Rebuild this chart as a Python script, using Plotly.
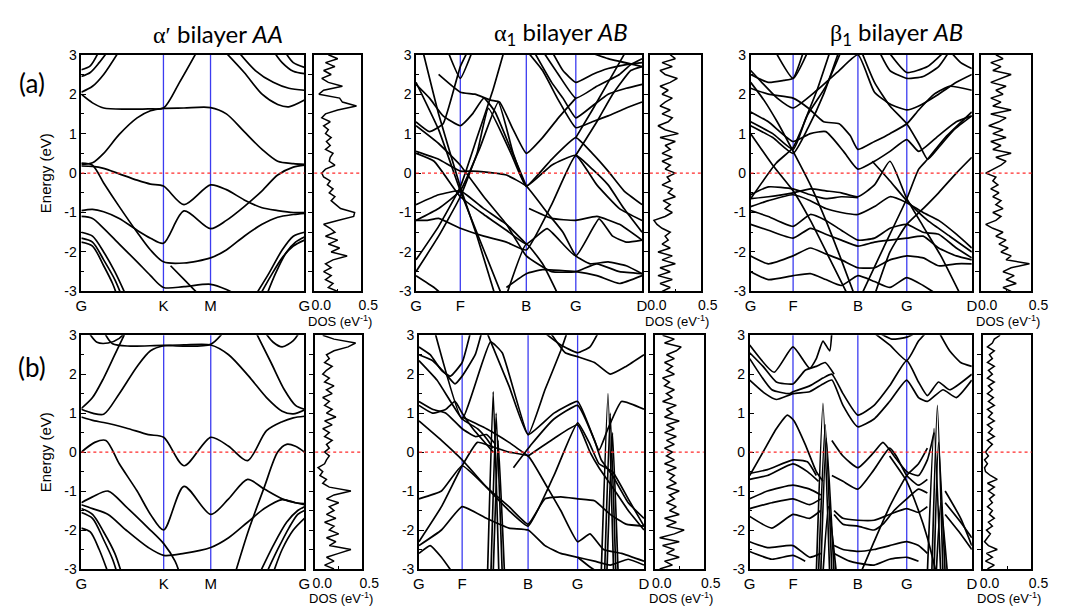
import plotly.graph_objects as go

W, H = 1071, 613

# ---------------- high-symmetry points / labels ----------------
AL_SYM = [0, 0.368, 0.579, 1.0]
AL_LAB = ["G", "K", "M", "G"]
AM_SYM = [0, 0.196, 0.488, 0.707, 1.0]
AR_SYM = [0, 0.192, 0.485, 0.706, 1.0]
BL_SYM = [0, 0.369, 0.58, 1.0]
BM_SYM = [0, 0.192, 0.485, 0.705, 1.0]
BR_SYM = [0, 0.195, 0.487, 0.707, 1.0]
AB_LAB = ["G", "F", "B", "G", "D"]

# ---------------- band nodes (k, E in eV) ----------------
AL_BANDS = [
    [(0, 0.22), (0.05, 0.26), (0.1, 0.5), (0.17, 0.98), (0.25, 1.4), (0.31, 1.58), (0.368, 1.64), (0.46, 1.65), (0.579, 1.66), (0.65, 1.5), (0.73, 1.05), (0.81, 0.6), (0.88, 0.3), (0.95, 0.24), (1, 0.22)],
    [(0, 2.0), (0.05, 1.78), (0.1, 1.65), (0.2, 1.62), (0.3, 1.63), (0.368, 1.65), (0.44, 2.3), (0.52, 3.1)],
    [(0.64, 3.1), (0.73, 2.55), (0.81, 2.0), (0.88, 1.74), (0.93, 1.68), (1, 1.85)],
    [(0, 2.05), (0.05, 2.2), (0.1, 2.5), (0.17, 3.1)],
    [(0, 2.45), (0.04, 2.55), (0.08, 2.8), (0.12, 3.1)],
    [(0, 2.62), (0.04, 2.72), (0.08, 3.1)],
    [(0.86, 3.1), (0.9, 2.8), (0.95, 2.58), (1, 2.52)],
    [(0.91, 3.1), (0.95, 2.8), (1, 2.68)],
    [(0.7, 3.1), (0.78, 2.6), (0.86, 2.3), (0.93, 2.15), (1, 2.1)],
    [(0, 0.18), (0.05, 0.17), (0.1, 0.12), (0.17, -0.02), (0.25, -0.18), (0.31, -0.28), (0.368, -0.33), (0.46, -0.8), (0.579, -0.3), (0.65, -0.42), (0.73, -0.68), (0.81, -0.88), (0.88, -0.95), (0.95, -1.0), (1, -1.0)],
    [(0, -0.95), (0.05, -0.92), (0.1, -0.98), (0.17, -1.15), (0.25, -1.45), (0.31, -1.65), (0.368, -1.78), (0.46, -0.96), (0.579, -1.41), (0.65, -1.2), (0.73, -0.85), (0.81, -0.45), (0.88, -0.05), (0.95, 0.15), (1, 0.2)],
    [(0, 0.25), (0.05, 0.2), (0.1, -0.25), (0.17, -0.85), (0.25, -1.5), (0.31, -1.95), (0.368, -2.25), (0.46, -2.28), (0.579, -2.15), (0.65, -1.95), (0.73, -1.6), (0.81, -1.3), (0.88, -1.12), (0.95, -1.05), (1, -1.02)],
    [(0, -1.1), (0.05, -1.15), (0.1, -1.4), (0.17, -1.8), (0.25, -2.25), (0.31, -2.6), (0.368, -2.9), (0.46, -2.88), (0.579, -2.82), (0.65, -2.95), (0.7, -3.1)],
    [(0, -1.5), (0.05, -1.6), (0.1, -2.0), (0.15, -2.5), (0.2, -3.1)],
    [(0, -1.65), (0.05, -1.75), (0.1, -2.2), (0.15, -2.7), (0.18, -3.1)],
    [(0, -1.75), (0.05, -1.85), (0.1, -2.35), (0.14, -2.8), (0.16, -3.1)],
    [(0.8, -3.1), (0.85, -2.6), (0.9, -2.15), (0.95, -1.85), (1, -1.7)],
    [(0.83, -3.1), (0.87, -2.55), (0.92, -2.0), (0.96, -1.75), (1, -1.62)],
    [(0.78, -3.1), (0.84, -2.55), (0.9, -1.95), (0.95, -1.6), (1, -1.5)],
    [(0.4, -2.35), (0.47, -2.75), (0.53, -3.1)],
]

BL_BANDS = [
    [(0, 1.1), (0.05, 1.0), (0.1, 0.97), (0.17, 1.5), (0.25, 2.2), (0.31, 2.6), (0.369, 2.73), (0.46, 2.75), (0.58, 2.75), (0.66, 2.5), (0.75, 1.95), (0.83, 1.4), (0.9, 1.05), (0.95, 0.98), (1, 1.08)],
    [(0, 1.12), (0.05, 1.4), (0.1, 1.9), (0.15, 2.5), (0.2, 3.1)],
    [(0.78, 3.1), (0.85, 2.3), (0.91, 1.6), (0.96, 1.2), (1, 1.1)],
    [(0.1, 3.1), (0.14, 2.78), (0.22, 2.72), (0.369, 2.74), (0.46, 2.72), (0.58, 2.77), (0.64, 3.1)],
    [(0.03, 3.1), (0.07, 2.82), (0.12, 2.8), (0.17, 2.92), (0.2, 3.1)],
    [(0.82, 3.1), (0.86, 2.82), (0.9, 2.7), (0.95, 2.86), (0.98, 3.1)],
    [(0, 0.9), (0.06, 0.8), (0.1, 0.76), (0.2, 0.62), (0.3, 0.45), (0.369, 0.38), (0.46, -0.35), (0.58, 0.38), (0.66, 0.15), (0.745, -0.22), (0.83, 0.55), (0.9, 0.78), (0.95, 0.88), (1, 0.92)],
    [(0, 0.0), (0.06, 0.25), (0.11, 0.3), (0.17, -0.3), (0.25, -1.0), (0.31, -1.6), (0.369, -2.0), (0.46, -0.88), (0.58, -1.6), (0.66, -1.2), (0.745, -0.7), (0.82, -0.95), (0.9, -1.2), (0.96, -1.3), (1, -1.32)],
    [(0.69, -3.1), (0.75, -2.0), (0.82, -0.9), (0.88, 0.0), (0.92, 0.2), (0.96, 0.15), (1, 0.0)],
    [(0, -1.3), (0.05, -1.15), (0.12, -1.0), (0.2, -1.4), (0.3, -1.95), (0.369, -2.35), (0.42, -2.8), (0.44, -3.1)],
    [(0, -1.35), (0.05, -1.45), (0.12, -1.6), (0.2, -2.0), (0.3, -2.45), (0.369, -2.65), (0.46, -2.6), (0.58, -2.45), (0.66, -2.2), (0.745, -1.8), (0.82, -1.45), (0.9, -1.22), (0.96, -1.3), (1, -1.35)],
    [(0, -1.45), (0.05, -1.6), (0.1, -2.05), (0.15, -2.6), (0.18, -3.1)],
    [(0, -1.55), (0.05, -1.7), (0.1, -2.25), (0.14, -2.75), (0.16, -3.1)],
    [(0, -1.95), (0.04, -2.05), (0.08, -2.5), (0.12, -3.1)],
    [(0.8, -3.1), (0.86, -2.4), (0.92, -1.8), (0.97, -1.5), (1, -1.4)],
    [(0.83, -3.1), (0.88, -2.5), (0.93, -1.95), (0.97, -1.6), (1, -1.5)],
    [(0.86, -3.1), (0.9, -2.5), (0.95, -2.0), (1, -1.7)],
]

AM_BANDS = [
    [(0.03, 3.1), (0.1, 1.5), (0.196, -0.35), (0.27, -1.6), (0.35, -3.1)],
    [(0, 2.3), (0.1, 1.1), (0.196, -0.45), (0.3, -1.95), (0.38, -3.1)],
    [(0, -2.2), (0.1, -1.35), (0.196, -0.35), (0.27, 0.9), (0.34, 2.1), (0.39, 3.1)],
    [(0, -2.5), (0.1, -1.6), (0.196, -0.6), (0.27, 0.5), (0.32, 1.64), (0.42, 0.5), (0.488, -0.33), (0.6, 0.2), (0.707, 0.45), (0.8, -0.3), (0.9, -0.9), (1, -1.2)],
    [(0, -1.2), (0.1, -0.9), (0.196, -0.45), (0.28, 0.6), (0.364, 1.8), (0.43, 0.5), (0.488, -0.33), (0.6, 0.35), (0.707, 0.9), (0.78, 0.5), (0.85, 0.05), (0.92, -0.45), (1, -0.8)],
    [(0, 0.55), (0.1, 0.35), (0.196, 0.05), (0.25, 0.05), (0.3, 0.03), (0.4, -0.05), (0.488, -0.33), (0.58, -1.0), (0.65, -1.5), (0.707, -2.1), (0.77, -2.3), (0.85, -2.25), (0.93, -2.35), (1, -2.55)],
    [(0, 0.5), (0.08, 0.3), (0.196, -0.6), (0.3, -1.05), (0.4, -1.45), (0.488, -1.8), (0.58, -1.41), (0.707, -2.1), (0.81, -1.16), (0.87, -1.6), (0.93, -1.75), (1, -1.7)],
    [(0, -1.2), (0.05, -1.2), (0.1, -1.15), (0.196, -1.4), (0.3, -1.6), (0.4, -1.75), (0.488, -1.95), (0.6, -0.8), (0.707, 0.45), (0.78, 0.1), (0.85, -0.3), (0.92, -0.9), (1, -1.5)],
    [(0, 1.2), (0.1, 0.75), (0.196, 0.2), (0.3, -0.6), (0.4, -1.3), (0.488, -2.1), (0.6, -2.5), (0.707, -2.5), (0.8, -2.3), (0.9, -2.5), (1, -2.55)],
    [(0.49, 3.1), (0.56, 2.6), (0.63, 1.85), (0.707, 1.15), (0.78, 1.3), (0.85, 1.45), (0.93, 1.65), (1, 1.8)],
    [(0.52, 3.1), (0.6, 2.3), (0.65, 1.9), (0.707, 1.4), (0.78, 1.7), (0.85, 2.0), (0.93, 2.15), (1, 2.25)],
    [(0.6, 3.1), (0.65, 2.6), (0.707, 2.3), (0.78, 2.5), (0.85, 2.65), (0.93, 2.75), (1, 2.8)],
    [(0.56, 3.1), (0.63, 2.5), (0.707, 1.9), (0.8, 2.2), (0.9, 2.5), (0.95, 2.75), (1, 2.9)],
    [(0.707, 0.9), (0.78, 1.6), (0.85, 2.3), (0.9, 2.8), (0.93, 3.1)],
    [(0.707, 0.45), (0.8, 1.3), (0.87, 2.0), (0.95, 2.6), (1, 2.7)],
    [(0, 2.25), (0.06, 1.9), (0.12, 1.45), (0.196, 1.2), (0.25, 1.5), (0.3, 1.9), (0.35, 1.55), (0.42, 0.6), (0.488, -0.33)],
    [(0.14, 3.1), (0.196, 2.4), (0.25, 3.1)],
    [(0.1, 2.5), (0.196, 2.05), (0.26, 2.0), (0.33, 1.85), (0.37, 1.8), (0.43, 1.1), (0.488, 0.5), (0.56, 0.9), (0.63, 1.4), (0.707, 1.9)],
    [(0, 1.3), (0.06, 1.05), (0.12, 1.25), (0.196, 2.7), (0.23, 3.1)],
    [(0, -2.6), (0.08, -2.9), (0.12, -3.1)],
    [(0.4, -3.1), (0.488, -1.8), (0.56, -2.3), (0.63, -3.1)],
    [(0.4, -2.9), (0.488, -2.55), (0.56, -2.45), (0.707, -2.5), (0.8, -2.6), (0.9, -2.8), (1, -2.6)],
    [(0, -0.8), (0.1, -0.55), (0.196, -0.45), (0.3, -0.9), (0.4, -1.3), (0.488, -1.8)],
    [(0.5, -0.9), (0.6, -1.15), (0.707, -1.2), (0.8, -1.1), (0.9, -1.3), (1, -1.7)],
    [(0.75, 3.1), (0.85, 2.9), (1, 2.7)],
]

AR_BANDS = [
    [(0, 1.55), (0.08, 1.3), (0.192, 0.8), (0.27, 1.0), (0.34, 1.05), (0.42, 0.55), (0.485, 0.1), (0.56, 0.3), (0.63, 0.55), (0.706, 0.85), (0.76, 0.55), (0.85, 0.95), (0.93, 1.3), (1, 1.45)],
    [(0, 1.3), (0.1, 1.0), (0.192, 0.6), (0.25, 1.4), (0.3, 2.1), (0.36, 3.1)],
    [(0, 1.2), (0.1, 0.9), (0.192, 0.5), (0.26, 1.15), (0.33, 2.0), (0.4, 3.1)],
    [(0, 2.3), (0.06, 1.85), (0.12, 1.3), (0.192, 0.55), (0.27, -0.3), (0.34, -1.2), (0.41, -2.2), (0.47, -3.1)],
    [(0, -0.65), (0.115, 0.25), (0.192, 0.65), (0.26, 1.5), (0.34, 2.2), (0.41, 3.1)],
    [(0, 2.5), (0.08, 2.3), (0.15, 2.35), (0.192, 2.4), (0.24, 3.1)],
    [(0.11, 3.1), (0.192, 2.4), (0.26, 3.1)],
    [(0, 2.15), (0.08, 2.0), (0.192, 1.9), (0.26, 1.65), (0.33, 1.3), (0.4, 1.25), (0.45, 0.95), (0.485, 0.6), (0.56, 0.8), (0.63, 1.0), (0.706, 1.25), (0.76, 1.6), (0.83, 2.0), (0.9, 2.2), (1, 2.1)],
    [(0, 2.6), (0.05, 2.3), (0.12, 1.9), (0.192, 1.65), (0.3, 2.1), (0.4, 2.6), (0.485, 3.0), (0.56, 2.05), (0.63, 1.75), (0.706, 1.6), (0.76, 1.7), (0.85, 2.0), (0.93, 2.3), (1, 2.5)],
    [(0.5, 3.1), (0.56, 2.3), (0.63, 1.7), (0.706, 1.25), (0.76, 0.75), (0.8, 0.35), (0.85, 0.65), (0.92, 1.1), (1, 1.45)],
    [(0.58, 3.1), (0.63, 2.6), (0.706, 2.4), (0.78, 2.45), (0.85, 2.7), (0.9, 3.1)],
    [(0.62, 3.1), (0.706, 2.55), (0.8, 2.7), (0.88, 3.1)],
    [(0.9, 3.1), (0.95, 2.8), (1, 2.65)],
    [(0, -0.65), (0.08, -0.6), (0.192, -0.5), (0.27, -0.4), (0.34, -0.45), (0.41, -0.5), (0.485, -0.6), (0.56, -0.3), (0.63, 0.3), (0.706, -0.65), (0.78, -1.35), (0.86, -2.1), (0.95, -3.1)],
    [(0, -0.85), (0.08, -0.7), (0.192, -0.55), (0.27, -0.7), (0.34, -0.9), (0.41, -1.0), (0.485, -1.05), (0.56, -0.85), (0.63, -0.6), (0.706, -0.75), (0.78, -1.0), (0.85, -1.2), (0.93, -1.55), (1, -1.9)],
    [(0, -0.95), (0.08, -1.1), (0.192, -1.35), (0.27, -1.05), (0.34, -1.2), (0.41, -1.45), (0.485, -1.7), (0.56, -1.65), (0.63, -1.4), (0.706, -1.3), (0.78, -1.5), (0.85, -1.55), (0.93, -1.9), (1, -2.15)],
    [(0, -1.3), (0.08, -1.45), (0.192, -1.65), (0.27, -1.4), (0.34, -1.55), (0.41, -1.7), (0.485, -1.85), (0.56, -1.75), (0.63, -1.7), (0.706, -1.65), (0.78, -1.6), (0.85, -1.9), (0.93, -2.1), (1, -2.2)],
    [(0, -2.1), (0.08, -2.3), (0.192, -2.1), (0.27, -1.9), (0.34, -2.05), (0.41, -2.2), (0.485, -2.4), (0.56, -2.4), (0.63, -2.2), (0.706, -2.1), (0.78, -2.15), (0.85, -2.35), (0.93, -2.3), (1, -2.3)],
    [(0, -2.5), (0.08, -2.7), (0.192, -2.6), (0.27, -2.55), (0.34, -2.7), (0.41, -2.85), (0.485, -2.6), (0.56, -2.75), (0.63, -2.9), (0.706, -2.65), (0.78, -2.85), (0.85, -3.1)],
    [(0.5, -3.1), (0.6, -1.9), (0.706, -0.65), (0.76, 0.1), (0.8, 0.35), (0.88, 0.9), (1, 1.55)],
    [(0, 1.0), (0.1, 0.2), (0.192, -0.45), (0.27, -1.2), (0.36, -2.2), (0.44, -3.1)],
    [(0, -0.55), (0.08, -0.35), (0.192, -0.4), (0.27, -0.55), (0.34, -0.65), (0.41, -0.6), (0.485, -0.62)],
    [(0.56, -3.1), (0.63, -2.0), (0.706, -1.3), (0.78, -0.9), (0.85, -0.5), (0.93, 0.0), (1, 0.4)],
    [(0.55, 0.3), (0.63, -0.2), (0.706, -0.7), (0.8, -1.2), (0.9, -1.6), (1, -2.0)],
]

BM_BANDS = [
    [(0.07, 3.1), (0.192, 0.85), (0.318, 2.83), (0.37, 2.55), (0.485, 0.45), (0.56, 1.6), (0.63, 2.6), (0.66, 3.1)],
    [(0.3, 3.1), (0.4, 1.7), (0.485, 0.45), (0.6, 1.0), (0.705, 1.3), (0.76, 0.6), (0.8, 0.05), (0.84, 0.6), (0.9, 1.3), (1, 1.1)],
    [(0, 0.8), (0.1, 0.3), (0.192, -0.2), (0.3, -0.9), (0.4, -1.5), (0.485, -1.9), (0.6, -0.6), (0.705, 0.75), (0.76, 0.2), (0.8, -0.3), (0.86, -0.5), (0.93, -1.2), (1, -1.9)],
    [(0, -2.3), (0.1, -1.4), (0.192, -0.35), (0.26, 0.25), (0.32, 0.15), (0.4, 0.0), (0.485, -0.1), (0.56, -0.8), (0.63, -1.5), (0.705, -2.3), (0.76, -2.1), (0.82, -2.5), (0.9, -2.6), (1, -2.8)],
    [(0, -1.2), (0.1, -1.0), (0.192, -0.35), (0.3, -0.9), (0.4, -1.4), (0.485, -1.85), (0.56, -1.2), (0.63, -1.15), (0.705, -1.2), (0.78, -1.25), (0.85, -1.6), (0.92, -1.85), (1, -1.9)],
    [(0, -2.4), (0.1, -2.0), (0.192, -1.4), (0.3, -1.7), (0.4, -1.95), (0.485, -2.0), (0.56, -2.4), (0.63, -2.6), (0.705, -2.7), (0.78, -2.8), (0.85, -2.9), (0.93, -2.75), (1, -2.9)],
    [(0.485, -0.1), (0.6, 0.35), (0.705, 0.7), (0.76, 0.0), (0.8, -0.4), (0.86, -0.9), (0.93, -1.5), (1, -2.0)],
    [(0.192, 0.9), (0.3, 0.6), (0.4, 0.25), (0.485, -0.1)],
    [(0, 2.7), (0.05, 2.5), (0.1, 2.1), (0.14, 1.95), (0.192, 2.3), (0.23, 3.1)],
    [(0, 2.5), (0.06, 2.35), (0.12, 2.0), (0.16, 1.75), (0.192, 1.95), (0.25, 2.5), (0.28, 3.1)],
    [(0, 2.35), (0.08, 1.85), (0.192, 0.85), (0.26, 0.6), (0.3, 0.35), (0.33, 0.1)],
    [(0, 1.3), (0.06, 1.1), (0.12, 1.0), (0.192, 0.6), (0.25, 0.4), (0.3, 0.45), (0.34, 0.2)],
    [(0, 1.2), (0.06, 1.0), (0.12, 1.1), (0.16, 1.3), (0.192, 1.0), (0.24, 0.6), (0.3, 0.2), (0.33, 0.0)],
    [(0.55, 3.1), (0.63, 2.75), (0.705, 2.55), (0.76, 2.7), (0.8, 3.1)],
    [(0.58, 3.1), (0.65, 2.55), (0.705, 2.45), (0.78, 2.3), (0.85, 2.0), (0.92, 2.2), (1, 2.5)],
    [(0.42, -0.4), (0.5, 0.2), (0.6, 0.85), (0.705, 1.2), (0.78, 0.3), (0.81, -0.2), (0.86, -0.6), (0.93, -1.3), (1, -1.7)],
    [(0, -2.6), (0.05, -2.4), (0.1, -2.7), (0.15, -3.1)],
    [(0.705, -2.7), (0.76, -2.95), (0.8, -3.1)],
    [(0.305, -3.1), (0.33, 1.55), (0.355, -3.1)],
    [(0.32, -3.1), (0.343, 1.0), (0.37, -3.1)],
    [(0.33, -3.1), (0.352, 0.3), (0.38, -3.1)],
    [(0.81, -3.1), (0.84, 1.5), (0.865, -3.1)],
    [(0.825, -3.1), (0.85, 1.0), (0.875, -3.1)],
    [(0.835, -3.1), (0.86, 0.5), (0.885, -3.1)],
]

BR_BANDS = [
    [(0, 2.4), (0.1, 1.6), (0.18, 1.5), (0.195, 1.55), (0.27, 1.7), (0.33, 1.9), (0.37, 2.0), (0.42, 1.5), (0.487, 0.95), (0.56, 1.2), (0.63, 1.7), (0.707, 2.35), (0.76, 1.8), (0.8, 1.45), (0.85, 1.8), (0.9, 1.6), (1, 2.0)],
    [(0, 1.85), (0.07, 1.5), (0.12, 1.35), (0.195, 1.5), (0.27, 1.55), (0.33, 1.75), (0.37, 1.85), (0.42, 1.2), (0.487, 0.65), (0.56, 0.85), (0.63, 1.3), (0.707, 1.85), (0.76, 1.4), (0.8, 1.3), (0.87, 1.6), (0.93, 1.4), (1, 1.85)],
    [(0, 2.75), (0.11, 2.05), (0.195, 2.7), (0.27, 2.15), (0.3, 2.4), (0.33, 2.85), (0.36, 2.6), (0.37, 3.1)],
    [(0, 2.55), (0.06, 2.2), (0.12, 1.8), (0.195, 1.75), (0.25, 2.1), (0.3, 2.2), (0.34, 2.3), (0.38, 2.0)],
    [(0.55, 3.1), (0.63, 2.75), (0.707, 2.35), (0.76, 2.85), (0.8, 3.1)],
    [(0.57, 3.1), (0.64, 2.9), (0.707, 2.95), (0.76, 3.1)],
    [(0.85, 3.1), (0.9, 2.6), (0.95, 2.3), (1, 2.2)],
    [(0, -0.6), (0.06, 0.0), (0.12, 0.6), (0.17, 0.95), (0.2, 0.8), (0.25, 0.2), (0.3, -0.5), (0.33, -0.75)],
    [(0.37, 0.3), (0.42, -0.1), (0.487, -0.4), (0.56, 0.0), (0.6, 0.25), (0.65, -0.1), (0.707, -0.5), (0.76, -0.6), (0.8, -0.2), (0.83, 0.5)],
    [(0.37, -0.6), (0.42, -0.75), (0.487, -0.95), (0.56, -0.45), (0.63, 0.1), (0.66, -0.1), (0.707, -0.6), (0.76, -0.85), (0.8, -0.7)],
    [(0, -0.55), (0.08, -0.45), (0.195, -0.2), (0.26, -0.25), (0.3, -0.6)],
    [(0, -0.7), (0.08, -0.6), (0.195, -0.3), (0.26, -0.5), (0.31, -0.75)],
    [(0, -1.2), (0.08, -1.0), (0.195, -0.85), (0.27, -0.95), (0.32, -1.1)],
    [(0, -1.45), (0.1, -1.3), (0.195, -1.2), (0.27, -1.35), (0.32, -1.2)],
    [(0, -1.65), (0.1, -1.95), (0.195, -1.6), (0.27, -1.7), (0.32, -1.5)],
    [(0, -2.3), (0.08, -2.45), (0.195, -2.4), (0.27, -2.7), (0.32, -2.6)],
    [(0, -2.55), (0.1, -2.75), (0.195, -2.65), (0.25, -2.8)],
    [(0.38, -1.5), (0.42, -1.7), (0.487, -1.75), (0.56, -1.75), (0.63, -1.6), (0.707, -1.45), (0.76, -1.55), (0.8, -1.4)],
    [(0.38, -1.6), (0.42, -1.85), (0.487, -1.9), (0.56, -2.0), (0.6, -1.85), (0.65, -1.5), (0.707, -1.2), (0.76, -0.95), (0.8, -1.05)],
    [(0.38, -2.4), (0.42, -2.5), (0.487, -2.55), (0.56, -2.5), (0.63, -2.4), (0.707, -2.3), (0.76, -2.4), (0.8, -2.6)],
    [(0.38, -2.6), (0.45, -2.8), (0.487, -2.85), (0.56, -2.9), (0.63, -2.75), (0.707, -2.7), (0.76, -2.8)],
    [(0.5, -3.1), (0.56, -2.3), (0.63, -1.4), (0.707, -0.6), (0.76, -0.3), (0.8, 0.1)],
    [(0.63, -0.1), (0.707, -0.75), (0.76, -1.5), (0.8, -2.2), (0.84, -3.1)],
    [(0.88, -1.3), (0.95, -1.8), (1, -2.2)],
    [(0.88, -1.0), (0.95, -1.7), (1, -2.4)],
    [(0.88, -1.6), (0.95, -2.1), (1, -2.5)],
    [(0.3, -3.1), (0.33, 1.25), (0.36, -3.1)],
    [(0.31, -3.1), (0.34, 0.7), (0.37, -3.1)],
    [(0.32, -3.1), (0.345, 0.35), (0.38, -3.1)],
    [(0.33, -3.1), (0.355, -1.4), (0.39, -3.1)],
    [(0.8, -3.1), (0.83, 0.6), (0.86, -3.1)],
    [(0.82, -3.1), (0.845, 1.2), (0.87, -3.1)],
    [(0.83, -3.1), (0.85, 0.25), (0.88, -3.1)],
    [(0.84, -3.1), (0.86, -1.3), (0.89, -3.1)],
]

# ---------------- DOS (eV^-1) on energy grid -3.0 ... 3.0 step 0.1 ----------------
DOS_E = [round(-3.0 + 0.1 * i, 1) for i in range(61)]
DOS_AL = [0.25, 0.15, 0.2, 0.12, 0.18, 0.1, 0.18, 0.12, 0.2, 0.35, 0.18, 0.27, 0.15, 0.25, 0.12, 0.22, 0.17, 0.1, 0.25, 0.42,
          0.43, 0.28, 0.23, 0.18, 0.22, 0.16, 0.2, 0.14, 0.17, 0.1, 0.08, 0.12, 0.22, 0.16, 0.17, 0.2, 0.12, 0.17, 0.13, 0.18,
          0.12, 0.15, 0.1, 0.17, 0.08, 0.12, 0.25, 0.45, 0.3, 0.27, 0.05, 0.1, 0.3, 0.15, 0.08, 0.18, 0.1, 0.22, 0.12, 0.25, 0.15]
DOS_AM = [0.12, 0.2, 0.1, 0.22, 0.08, 0.2, 0.1, 0.25, 0.12, 0.22, 0.08, 0.2, 0.12, 0.18, 0.15, 0.2, 0.12, 0.07, 0.04, 0.15,
          0.22, 0.15, 0.2, 0.13, 0.25, 0.18, 0.22, 0.12, 0.2, 0.17, 0.25, 0.15, 0.2, 0.12, 0.22, 0.12, 0.2, 0.15, 0.25, 0.1,
          0.28, 0.15, 0.08, 0.18, 0.22, 0.12, 0.2, 0.1, 0.15, 0.22, 0.12, 0.18, 0.1, 0.2, 0.27, 0.15, 0.1, 0.22, 0.12, 0.25, 0.2]
DOS_AR = [0.3, 0.22, 0.35, 0.25, 0.33, 0.22, 0.3, 0.48, 0.25, 0.3, 0.2, 0.27, 0.18, 0.25, 0.15, 0.22, 0.12, 0.05, 0.15, 0.2,
          0.12, 0.22, 0.15, 0.2, 0.12, 0.18, 0.1, 0.17, 0.12, 0.15, 0.05, 0.12, 0.2, 0.25, 0.15, 0.3, 0.12, 0.2, 0.1, 0.25,
          0.12, 0.22, 0.08, 0.18, 0.25, 0.1, 0.3, 0.12, 0.2, 0.1, 0.22, 0.15, 0.25, 0.1, 0.2, 0.3, 0.12, 0.2, 0.1, 0.22, 0.15]
DOS_BL = [0.2, 0.1, 0.2, 0.12, 0.25, 0.38, 0.15, 0.22, 0.12, 0.25, 0.15, 0.2, 0.1, 0.22, 0.12, 0.2, 0.15, 0.25, 0.12, 0.2,
          0.38, 0.15, 0.08, 0.12, 0.05, 0.08, 0.03, 0.1, 0.12, 0.15, 0.1, 0.15, 0.12, 0.18, 0.1, 0.15, 0.08, 0.18, 0.1, 0.22,
          0.12, 0.18, 0.1, 0.15, 0.08, 0.18, 0.12, 0.2, 0.1, 0.15, 0.08, 0.12, 0.18, 0.1, 0.15, 0.12, 0.2, 0.35, 0.43, 0.2, 0.08]
DOS_BM = [0.05, 0.18, 0.1, 0.25, 0.12, 0.2, 0.08, 0.25, 0.05, 0.2, 0.3, 0.12, 0.22, 0.1, 0.25, 0.15, 0.22, 0.12, 0.2, 0.15,
          0.25, 0.12, 0.22, 0.15, 0.2, 0.12, 0.22, 0.1, 0.2, 0.12, 0.18, 0.1, 0.2, 0.12, 0.22, 0.1, 0.2, 0.12, 0.25, 0.1,
          0.18, 0.12, 0.22, 0.08, 0.18, 0.12, 0.2, 0.1, 0.15, 0.08, 0.2, 0.12, 0.18, 0.1, 0.2, 0.12, 0.22, 0.27, 0.1, 0.2, 0.08]
DOS_BR = [0.05, 0.12, 0.03, 0.1, 0.04, 0.15, 0.06, 0.02, 0.05, 0.08, 0.04, 0.1, 0.06, 0.12, 0.07, 0.1, 0.05, 0.1, 0.07, 0.12,
          0.06, 0.12, 0.05, 0.15, 0.08, 0.03, 0.02, 0.05, 0.02, 0.06, 0.03, 0.06, 0.1, 0.05, 0.12, 0.06, 0.1, 0.05, 0.12, 0.06,
          0.1, 0.05, 0.12, 0.06, 0.11, 0.05, 0.1, 0.06, 0.12, 0.05, 0.1, 0.06, 0.12, 0.05, 0.1, 0.07, 0.12, 0.05, 0.1, 0.12, 0.18]

TITLES = [
    "<span style='font-family:Liberation Serif'>α′</span> bilayer <i>AA</i>",
    "<span style='font-family:Liberation Serif'>α</span><sub>1</sub> bilayer <i>AB</i>",
    "<span style='font-family:Liberation Serif'>β</span><sub>1</sub> bilayer <i>AB</i>",
]

# ---------------- layout geometry (pixels) ----------------
panels = [
    dict(bands=AL_BANDS, dos=DOS_AL, sym=AL_SYM, lab=AL_LAB, bx=(77, 305), dx=(315, 363), y=(48, 291), smooth=0.8, elab=True),
    dict(bands=AM_BANDS, dos=DOS_AM, sym=AM_SYM, lab=AB_LAB, bx=(419, 650), dx=(658, 710), y=(48, 291), smooth=0.4, elab=False),
    dict(bands=AR_BANDS, dos=DOS_AR, sym=AR_SYM, lab=AB_LAB, bx=(761, 987), dx=(996, 1048), y=(48, 291), smooth=0.5, elab=False),
    dict(bands=BL_BANDS, dos=DOS_BL, sym=BL_SYM, lab=AL_LAB, bx=(77, 305), dx=(316, 364), y=(336, 576), smooth=0.8, elab=True),
    dict(bands=BM_BANDS, dos=DOS_BM, sym=BM_SYM, lab=AB_LAB, bx=(422, 652), dx=(663, 713), y=(336, 576), smooth=0.4, elab=False),
    dict(bands=BR_BANDS, dos=DOS_BR, sym=BR_SYM, lab=AB_LAB, bx=(760, 987), dx=(998, 1048), y=(336, 576), smooth=0.5, elab=False),
]

fig = go.Figure()
layout = {}
shapes = []
annotations = []
TICKFONT = dict(family="Liberation Sans, Arial", size=14, color="black")
BLUE = "#3c3cf0"

def ax_names(i):
    s = "" if i == 1 else str(i)
    return "x" + s, "y" + s, "xaxis" + s, "yaxis" + s

for pi, p in enumerate(panels):
    bi, di = 2 * pi + 1, 2 * pi + 2
    bxr, byr, bxk, byk = ax_names(bi)
    dxr, dyr, dxk, dyk = ax_names(di)
    ydom = [1 - p["y"][1] / H, 1 - p["y"][0] / H]

    for band in p["bands"]:
        fig.add_trace(go.Scatter(
            x=[q[0] for q in band], y=[q[1] for q in band], mode="lines",
            line=dict(color="black", width=1.7, shape="spline", smoothing=p["smooth"]),
            xaxis=bxr, yaxis=byr, hoverinfo="skip", showlegend=False))
    fig.add_trace(go.Scatter(
        x=p["dos"], y=DOS_E, mode="lines", line=dict(color="black", width=1.5),
        xaxis=dxr, yaxis=dyr, hoverinfo="skip", showlegend=False))

    layout[bxk] = dict(domain=[p["bx"][0] / W, p["bx"][1] / W], anchor=byr, range=[0, 1],
                       tickvals=p["sym"], ticktext=p["lab"], ticks="", showline=True, mirror=True,
                       linecolor="black", linewidth=1.5, showgrid=False, zeroline=False,
                       tickfont=dict(family="Liberation Sans, Arial", size=15, color="black"))
    layout[byk] = dict(domain=ydom, anchor=bxr, range=[-3, 3], tickvals=[-3, -2, -1, 0, 1, 2, 3],
                       ticktext=["-3", "-2", "-1", "0", "1", "2", "3"],
                       ticks="inside", ticklen=5, tickwidth=1.2, tickcolor="black",
                       minor=dict(dtick=0.5, tick0=0, ticks="inside", ticklen=3, tickcolor="black"),
                       showline=True, mirror=True, linecolor="black", linewidth=1.5,
                       showgrid=False, zeroline=False, tickfont=TICKFONT)
    layout[dxk] = dict(domain=[p["dx"][0] / W, p["dx"][1] / W], anchor=dyr, range=[0, 0.5],
                       tickvals=[0, 0.5], ticktext=["0.0", "0.5"], ticks="inside", ticklen=4,
                       ticklabelshift=7, ticklabelstandoff=0,
                       tickcolor="black", minor=dict(tickvals=[0.25], ticks="inside", ticklen=3, tickcolor="black"),
                       showline=True, mirror=True, linecolor="black", linewidth=1.5,
                       showgrid=False, zeroline=False, tickfont=TICKFONT)
    layout[dyk] = dict(domain=ydom, anchor=dxr, range=[-3, 3],
                       tickvals=[-2.5, -2, -1.5, -1, -0.5, 0, 0.5, 1, 1.5, 2, 2.5],
                       showticklabels=False, ticks="outside", ticklen=4, tickcolor="black",
                       showline=True, mirror=True, linecolor="black", linewidth=1.5,
                       showgrid=False, zeroline=False)

    for k in p["sym"][1:-1]:
        shapes.append(dict(type="line", xref=bxr, yref=byr + " domain", x0=k, x1=k, y0=0, y1=1,
                           line=dict(color=BLUE, width=1.3), layer="below"))
    for xr in (bxr, dxr):
        shapes.append(dict(type="line", xref=xr + " domain", yref=(byr if xr == bxr else dyr),
                           x0=0, x1=1, y0=0, y1=0, line=dict(color="#ff2a2a", width=1.2, dash="dot")))

    row_bottom = p["y"][1]
    annotations.append(dict(text="DOS (eV<sup>-1</sup>)", xref="paper", yref="paper",
                            x=(p["dx"][0] + p["dx"][1]) / 2 / W + 2 / W, y=1 - (row_bottom + 30) / H,
                            showarrow=False, xanchor="center", yanchor="middle",
                            font=dict(family="Liberation Sans, Arial", size=13, color="black")))
    if p["elab"]:
        annotations.append(dict(text="Energy (eV)", xref="paper", yref="paper", textangle=-90,
                                x=40 / W, y=1 - (p["y"][0] + p["y"][1]) / 2 / H, showarrow=False,
                                xanchor="center", yanchor="middle",
                                font=dict(family="Liberation Sans, Arial", size=15, color="black")))

for t, cx in zip(TITLES, (217, 567, 910)):
    annotations.append(dict(text=t, xref="paper", yref="paper", x=cx / W, y=1 - 26 / H,
                            showarrow=False, xanchor="center", yanchor="middle",
                            font=dict(family="Lato, Open Sans", size=24, color="black")))
for t, cy in (("(a)", 77), ("(b)", 369)):
    annotations.append(dict(text=t, xref="paper", yref="paper", x=27 / W, y=1 - cy / H,
                            showarrow=False, xanchor="center", yanchor="middle",
                            font=dict(family="Lato, Open Sans", size=26, color="black")))

fig.update_layout(width=W, height=H, margin=dict(l=0, r=0, t=0, b=0),
                  paper_bgcolor="white", plot_bgcolor="white",
                  shapes=shapes, annotations=annotations, **layout)

fig.write_html("out.html")
